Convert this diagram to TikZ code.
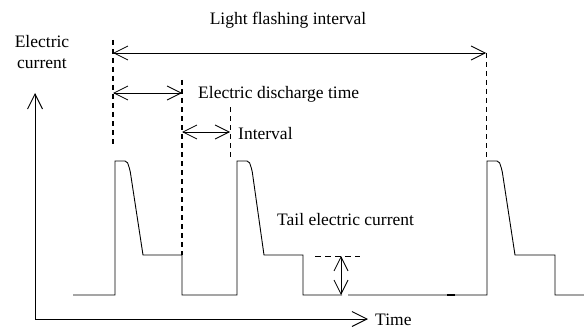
\documentclass[tikz,border=0pt]{standalone}
\usepackage{fontspec}
\setmainfont{Liberation Serif}
\usetikzlibrary{arrows.meta}
\begin{document}
\begin{tikzpicture}[x=1pt,y=-1pt,
  wave/.style={line width=0.9pt, line join=miter},
  thickdash/.style={line width=1.8pt, dash pattern=on 5pt off 4pt},
  thindash/.style={line width=0.8pt, dash pattern=on 5pt off 4pt},
  dim/.style={line width=0.8pt, {Straight Barb[length=14pt,width=14pt]}-{Straight Barb[length=14pt,width=14pt]}},
  axis/.style={line width=0.9pt, -{Straight Barb[length=15pt,width=15pt]}},
  lbl/.style={font=\fontsize{17.5}{21}\selectfont, inner sep=0pt}]
\useasboundingbox (0,0) rectangle (584,329);
% axes
\coordinate (o) at (35,319);
\coordinate (ytop) at (35,93);
\coordinate (xend) at (368,319);
\draw[axis] (o) -- (ytop);
\draw[axis] (o) -- (xend);
\node[lbl, anchor=west] (time) at (375,320) {Time};
\node[lbl, align=center] (ec) at (42,52) {Electric\\current};
% waveform
\draw[wave] (73,295) -- (115,295) -- (115,161) [rounded corners=2pt] -- (127,161) -- (130,170) [sharp corners] -- (143,255) -- (182,255) -- (182,295) -- (237,295) -- (237,161) [rounded corners=2pt] -- (249,161) -- (252,170) [sharp corners] -- (264,255) -- (303,255) -- (303,295) -- (342,295);
\draw[wave] (348,295) -- (487,295) -- (487,161) [rounded corners=2pt] -- (499,161) -- (502,170) [sharp corners] -- (515,255) -- (555,255) -- (555,295) -- (584,295);
\draw[line width=1.6pt] (447,295) -- (455,295);
% dashed verticals
\coordinate (d1t) at (113,40);
\coordinate (d1b) at (113,147);
\coordinate (d2t) at (182,80);
\coordinate (d2b) at (182,255);
\coordinate (d3t) at (230,107);
\coordinate (d3b) at (230,158);
\coordinate (d4t) at (486,53);
\coordinate (d4b) at (486,160);
\draw[thickdash] (d1t) -- (d1b);
\draw[thickdash] (d2t) -- (d2b);
\draw[thindash] (d3t) -- (d3b);
\draw[thindash] (d4t) -- (d4b);
% dimension arrows
\coordinate (a1l) at (113,53);
\coordinate (a2l) at (113,93);
\coordinate (a2r) at (182,93);
\coordinate (a3l) at (182,132);
\coordinate (a3r) at (230,132);
\draw[dim] (a1l) -- (d4t);
\draw[dim] (a2l) -- (a2r);
\draw[dim] (a3l) -- (a3r);
\node[lbl] (lfi) at (288,20) {Light flashing interval};
\node[lbl, anchor=west] (edt) at (198,94) {Electric discharge time};
\node[lbl, anchor=west] (iv) at (238,134) {Interval};
% tail current
\coordinate (tl) at (315,256);
\coordinate (tr) at (360,256);
\coordinate (tt) at (341,256);
\coordinate (tb) at (341,295);
\draw[thindash, dash pattern=on 6pt off 4pt] (tl) -- (tr);
\draw[dim] (tt) -- (tb);
\node[lbl, anchor=west] (tec) at (277,220) {Tail electric current};
\end{tikzpicture}
\end{document}
